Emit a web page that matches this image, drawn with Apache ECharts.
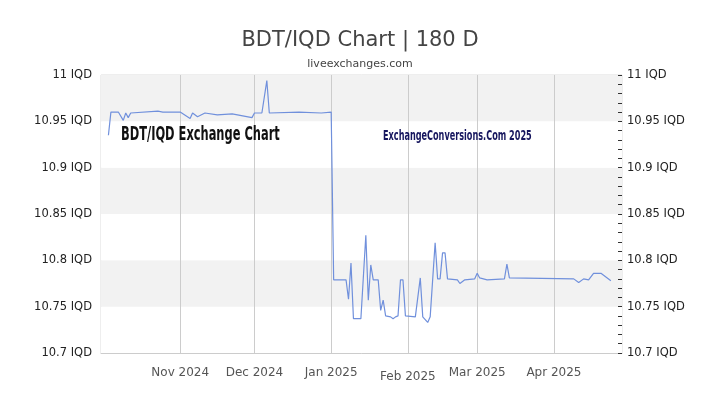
<!DOCTYPE html>
<html>
<head>
<meta charset="utf-8">
<script src="https://cdn.jsdelivr.net/npm/echarts@6/dist/echarts.min.js"></script>
<style>html,body{margin:0;padding:0;background:#fff;}#c{width:720px;height:405px;}</style>
</head>
<body>
<div id="c"></div>
<script>
var dates = ['2024-10-03','2024-10-04','2024-10-07','2024-10-09','2024-10-10','2024-10-11','2024-10-12','2024-10-23','2024-10-25',
'2024-11-01','2024-11-05','2024-11-06','2024-11-08','2024-11-11','2024-11-16','2024-11-22','2024-11-30',
'2024-12-01','2024-12-04','2024-12-06','2024-12-07','2024-12-19','2024-12-28',
'2025-01-01','2025-01-02','2025-01-07','2025-01-08','2025-01-09','2025-01-10','2025-01-13','2025-01-15','2025-01-16','2025-01-17','2025-01-18','2025-01-20','2025-01-21','2025-01-22','2025-01-23','2025-01-25','2025-01-26','2025-01-27','2025-01-28','2025-01-29','2025-01-30','2025-01-31',
'2025-02-04','2025-02-06','2025-02-07','2025-02-08','2025-02-09','2025-02-10','2025-02-12','2025-02-13','2025-02-14','2025-02-15','2025-02-16','2025-02-17','2025-02-21','2025-02-22','2025-02-24','2025-02-28',
'2025-03-01','2025-03-02','2025-03-05','2025-03-12','2025-03-13','2025-03-14',
'2025-04-09','2025-04-11','2025-04-13','2025-04-15','2025-04-17','2025-04-20','2025-04-24'];
var rates = [10.935,10.960,10.960,10.951,10.959,10.954,10.959,10.961,10.960,
10.960,10.953,10.959,10.955,10.959,10.957,10.958,10.954,
10.959,10.959,10.994,10.959,10.960,10.959,
10.960,10.779,10.779,10.758,10.797,10.737,10.737,10.827,10.757,10.795,10.779,10.779,10.746,10.757,10.740,10.739,10.737,10.739,10.740,10.779,10.779,10.740,
10.739,10.781,10.739,10.736,10.733,10.739,10.819,10.780,10.780,10.808,10.808,10.780,10.779,10.775,10.779,10.780,
10.786,10.781,10.779,10.780,10.796,10.781,
10.780,10.776,10.780,10.779,10.786,10.786,10.778];
var monthTicks = ['2024-11-01','2024-12-01','2025-01-01','2025-02-01','2025-03-01','2025-04-01'];
var monthLabels = ['Nov 2024','Dec 2024','Jan 2025','Feb 2025','Mar 2025','Apr 2025'];
var axisStart = '2024-09-30T00:00:00';
var axisEnd = '2025-04-28T12:00:00';
var yMin = 10.7, yMax = 11, yStep = 0.05;

function ts(s){ return new Date(s.length > 10 ? s : s + 'T00:00:00').getTime(); }
var tickTs = monthTicks.map(ts);
var seriesData = dates.map(function(d,i){ return [ts(d), rates[i]]; });

var chart = echarts.init(document.getElementById('c'));
var yLabelFmt = function(v){ return (+v.toFixed(2)) + ' IQD'; };
chart.setOption({
  animation: false,
  title: {
    text: 'BDT/IQD Chart | 180 D',
    subtext: 'liveexchanges.com',
    left: 'center', top: 25, itemGap: 8,
    textStyle: {fontFamily: 'DejaVu Sans', fontSize: 21, fontWeight: 'normal', color: '#444'},
    subtextStyle: {fontFamily: 'DejaVu Sans', fontSize: 11, color: '#444'}
  },
  grid: {left: 101, right: 98, top: 75, bottom: 52, show: true, borderColor: '#ddd', borderWidth: 1},
  xAxis: {
    type: 'value', min: ts(axisStart), max: ts(axisEnd),
    axisLine: {lineStyle: {color: '#ccc'}},
    axisTick: {show: false, customValues: tickTs},
    splitLine: {show: true, lineStyle: {color: '#ccc', width: 1}},
    axisLabel: {
      customValues: tickTs, margin: 14, color: '#555', fontFamily: 'DejaVu Sans', fontSize: 12,
      formatter: function(v){
        var i = tickTs.indexOf(v);
        var t = i >= 0 ? monthLabels[i] : '';
        return i === 3 ? '{low|' + t + '}' : t;
      },
      rich: {low: {padding: [4,0,0,0], color: '#555', fontFamily: 'DejaVu Sans', fontSize: 12}}
    }
  },
  yAxis: [{
    type: 'value', min: yMin, max: yMax, interval: yStep, position: 'left',
    axisLine: {show: false}, axisTick: {show: false},
    splitLine: {show: false},
    splitArea: {show: true, areaStyle: {color: ['#ffffff', '#f2f2f2']}},
    axisLabel: {formatter: yLabelFmt, color: '#222', fontFamily: 'DejaVu Sans', fontSize: 11.5, margin: 9}
  }, {
    type: 'value', min: yMin, max: yMax, interval: yStep, position: 'right',
    axisLine: {show: false},
    axisTick: {show: true, inside: true, length: 4, lineStyle: {color: '#333'}},
    minorTick: {show: true, splitNumber: 5, length: 4, lineStyle: {color: '#333'}},
    splitLine: {show: false},
    axisLabel: {formatter: yLabelFmt, color: '#222', fontFamily: 'DejaVu Sans', fontSize: 11.5, margin: 5}
  }],
  graphic: {
    elements: [
      {type: 'text', x: 121, y: 125, z: 100, scaleX: 0.635, style: {text: 'BDT/IQD Exchange Chart', fill: '#111', font: 'bold 20px "DejaVu Sans Condensed"'}},
      {type: 'text', x: 383, y: 129, z: 100, scaleX: 0.646, style: {text: 'ExchangeConversions.Com 2025', fill: '#16165e', font: 'bold 14px "DejaVu Sans Condensed"'}}
    ]
  },
  series: [{
    type: 'line', yAxisIndex: 0, data: seriesData, showSymbol: false, symbol: 'none',
    lineStyle: {color: '#7090dc', width: 1.2}
  }]
});
</script>
</body>
</html>
